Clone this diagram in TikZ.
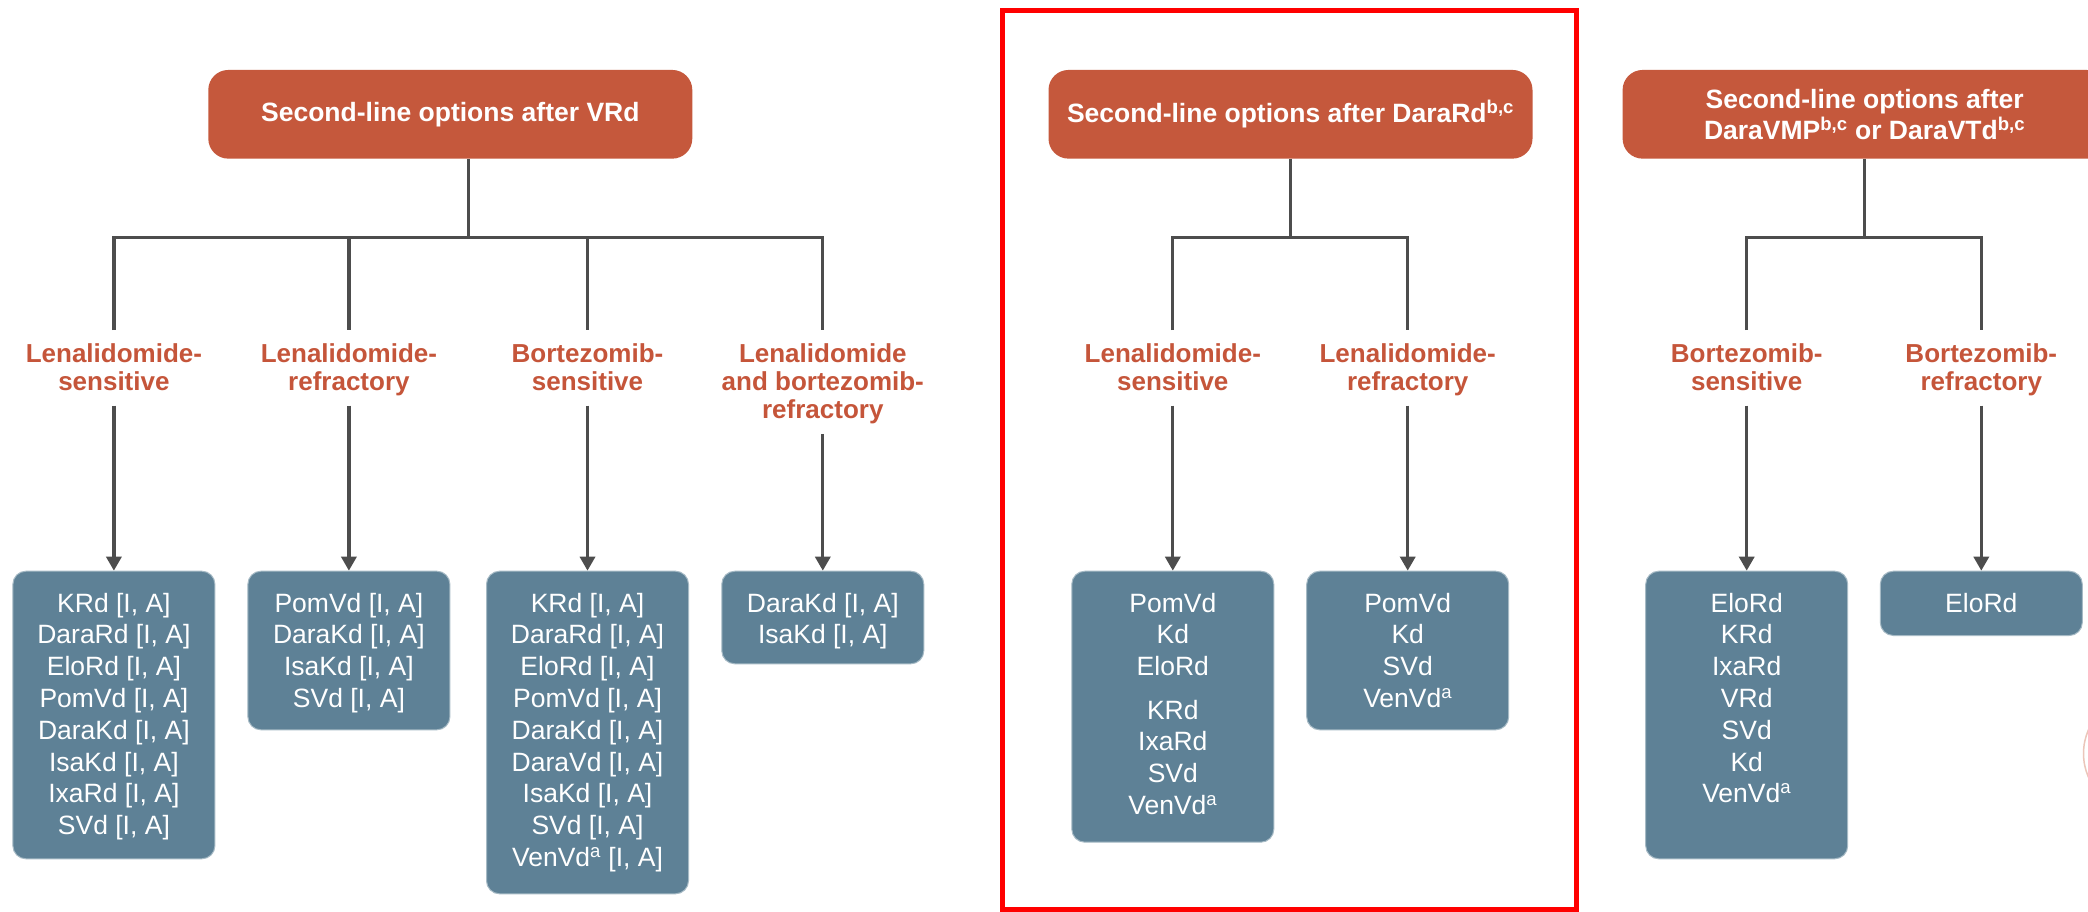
\documentclass[tikz,border=0pt]{standalone}
\usepackage{fontspec}
\setmainfont{Liberation Sans}
\usetikzlibrary{arrows.meta}

\definecolor{hdrfill}{HTML}{C5583C}
\definecolor{boxfill}{HTML}{5E8196}
\definecolor{lbltext}{HTML}{C5553A}
\definecolor{linkgray}{HTML}{4D4D4D}
\definecolor{framered}{HTML}{FF0000}
\definecolor{faintpink}{HTML}{EBC6BA}

\tikzset{
  header/.style={fill=hdrfill, rounded corners=20pt, minimum width=484pt,
    minimum height=88.7pt, text=white, inner sep=0pt, align=center,
    font=\fontsize{26.5}{31.2}\selectfont\bfseries},
  branchlabel/.style={text=lbltext, inner sep=0pt, align=center, anchor=north,
    font=\fontsize{26}{28.3}\selectfont\bfseries},
  optbox/.style={fill=boxfill, draw=boxfill!55!white, line width=1pt,
    rounded corners=13pt, minimum width=202pt, inner sep=0pt, anchor=north},
  opttext/.style={text=white, inner sep=0pt, align=center, anchor=north,
    font=\fontsize{26.5}{31.8}\selectfont},
  link/.style={draw=linkgray, line width=3.3pt},
  tolabel/.style={link, shorten >=13.1pt},
  tobox/.style={link, shorten <=9.5pt, -{Triangle[width=15pt,length=14pt]}},
}

\begin{document}
\begin{tikzpicture}[x=1pt, y=-1pt]
\path[use as bounding box, clip] (0,0) rectangle (2088,912);
\fill[white] (0,0) rectangle (2088,912);

% ---------------- after VRd ----------------
\node[header] (v-hdr) at (450.3,114.3) {Second-line options after VRd};
\coordinate (v-bar) at (468.2,237.7);

\node[branchlabel] (v-l1) at (113.9,343.1) {Lenalidomide-\\sensitive\vphantom{y}};
\node[branchlabel] (v-l2) at (348.9,343.1) {Lenalidomide-\\refractory};
\node[branchlabel] (v-l3) at (587.5,343.1) {Bortezomib-\\sensitive\vphantom{y}};
\node[branchlabel] (v-l4) at (822.8,343.1) {Lenalidomide\\and bortezomib-\\refractory};

\node[optbox, minimum height=287.6pt] (v-b1) at (113.9,570.7) {};
\node[optbox, minimum height=158.6pt] (v-b2) at (348.9,570.7) {};
\node[optbox, minimum height=322.6pt] (v-b3) at (587.5,570.7) {};
\node[optbox, minimum height=92.6pt]  (v-b4) at (822.8,570.7) {};

\node[opttext] (v-t1) at ([yshift=-22pt]v-b1.north)
  {KRd [I, A]\\DaraRd [I, A]\\EloRd [I, A]\\PomVd [I, A]\\DaraKd [I, A]\\IsaKd [I, A]\\IxaRd [I, A]\\SVd [I, A]};
\node[opttext] (v-t2) at ([yshift=-22pt]v-b2.north)
  {PomVd [I, A]\\DaraKd [I, A]\\IsaKd [I, A]\\SVd [I, A]};
\node[opttext] (v-t3) at ([yshift=-22pt]v-b3.north)
  {KRd [I, A]\\DaraRd [I, A]\\EloRd [I, A]\\PomVd [I, A]\\DaraKd [I, A]\\DaraVd [I, A]\\IsaKd [I, A]\\SVd [I, A]\\VenVd\textsuperscript{a} [I, A]};
\node[opttext] (v-t4) at ([yshift=-22pt]v-b4.north)
  {DaraKd [I, A]\\IsaKd [I, A]};

\draw[link] (v-hdr.south -| v-bar) -- (v-bar);
\draw[link, shorten <=13.1pt, shorten >=13.1pt]
  (v-l1.north) -- (v-l1.north |- v-bar) -- (v-l4.north |- v-bar) -- (v-l4.north);
\draw[tolabel] (v-l2.north |- v-bar) -- (v-l2.north);
\draw[tolabel] (v-l3.north |- v-bar) -- (v-l3.north);
\draw[tobox] (v-l1.south) -- (v-b1.north);
\draw[tobox] (v-l2.south) -- (v-b2.north);
\draw[tobox] (v-l3.south) -- (v-b3.north);
\draw[tobox] (v-l4.south) -- (v-b4.north);

% ---------------- after DaraRd ----------------
\node[header] (d-hdr) at (1290.5,114.3) {Second-line options after DaraRd\textsuperscript{b,c}};
\coordinate (d-bar) at (1290.2,237.7);

\node[branchlabel] (d-l1) at (1172.8,343.1) {Lenalidomide-\\sensitive\vphantom{y}};
\node[branchlabel] (d-l2) at (1407.7,343.1) {Lenalidomide-\\refractory};

\node[optbox, minimum height=271pt]   (d-b1) at (1172.8,570.7) {};
\node[optbox, minimum height=158.6pt] (d-b2) at (1407.7,570.7) {};

\node[opttext] (d-t1) at ([yshift=-22pt]d-b1.north)
  {PomVd\\Kd\\EloRd\\[11.6pt]KRd\\IxaRd\\SVd\\VenVd\textsuperscript{a}};
\node[opttext] (d-t2) at ([yshift=-22pt]d-b2.north)
  {PomVd\\Kd\\SVd\\VenVd\textsuperscript{a}};

\draw[link] (d-hdr.south -| d-bar) -- (d-bar);
\draw[link, shorten <=13.1pt, shorten >=13.1pt]
  (d-l1.north) -- (d-l1.north |- d-bar) -- (d-l2.north |- d-bar) -- (d-l2.north);
\draw[tobox] (d-l1.south) -- (d-b1.north);
\draw[tobox] (d-l2.south) -- (d-b2.north);

% frame around the DaraRd panel
\draw[framered, line width=5pt] (1002.7,10.8) rectangle (1576.3,909.3);

% ---------------- after DaraVMP or DaraVTd ----------------
\node[header] (t-hdr) at (1864.6,114.3)
  {Second-line options after\\DaraVMP\textsuperscript{b,c} or DaraVTd\textsuperscript{b,c}};
\coordinate (t-bar) at (1864.7,237.7);

\node[branchlabel] (t-l1) at (1746.7,343.1) {Bortezomib-\\sensitive\vphantom{y}};
\node[branchlabel] (t-l2) at (1981.3,343.1) {Bortezomib-\\refractory};

\node[optbox, minimum height=287.6pt] (t-b1) at (1746.7,570.7) {};
\node[optbox, minimum height=64.3pt]  (t-b2) at (1981.3,570.7) {};

\node[opttext] (t-t1) at ([yshift=-22pt]t-b1.north)
  {EloRd\\KRd\\IxaRd\\VRd\\SVd\\Kd\\VenVd\textsuperscript{a}};
\node[opttext] (t-t2) at ([yshift=-22pt]t-b2.north) {EloRd};

\draw[link] (t-hdr.south -| t-bar) -- (t-bar);
\draw[link, shorten <=13.1pt, shorten >=13.1pt]
  (t-l1.north) -- (t-l1.north |- t-bar) -- (t-l2.north |- t-bar) -- (t-l2.north);
\draw[tobox] (t-l1.south) -- (t-b1.north);
\draw[tobox] (t-l2.south) -- (t-b2.north);

% faint outline cut by the right edge
\draw[faintpink, line width=1.5pt] (2142.5,753.5) circle (59pt);
\end{tikzpicture}
\end{document}
